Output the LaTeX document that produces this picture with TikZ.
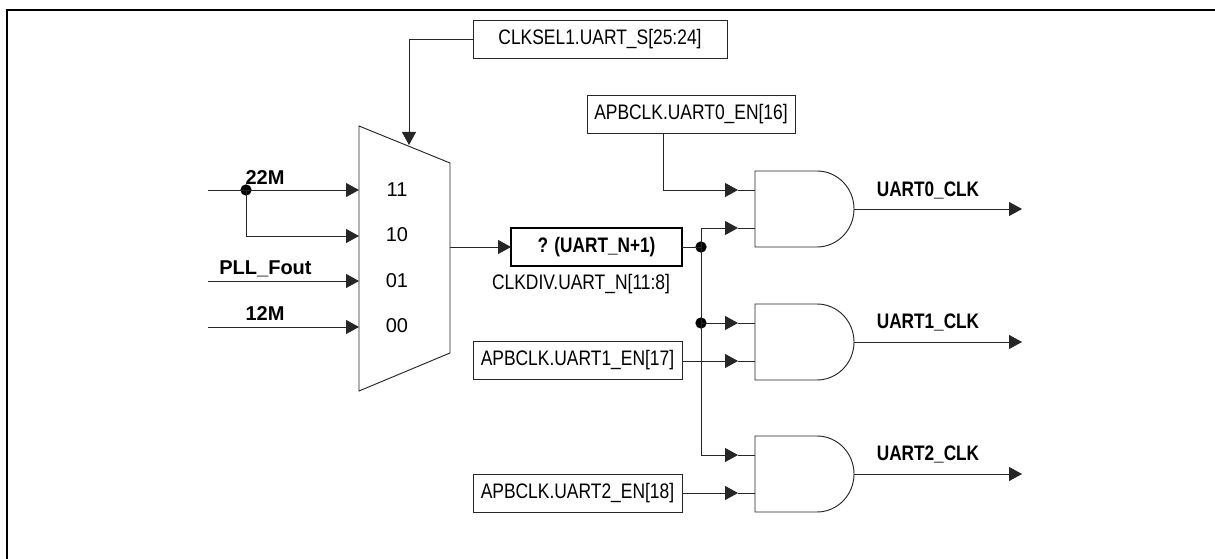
\documentclass[tikz,border=0pt]{standalone}
\usepackage{fontspec}
\setmainfont{Liberation Sans}
\newfontfamily\narrowfont[FakeStretch=0.82]{Liberation Sans}
\newfontfamily\regnarrowfont[FakeStretch=0.83]{Liberation Sans}
\usetikzlibrary{arrows.meta}
\tikzset{
  conn/.style={line width=0.7pt,draw=black!85},
  arr/.style={conn,-{Triangle[length=9.75pt,width=10.5pt]}},
  regbox/.style={draw=black!85,line width=0.7pt,fill=white,inner sep=0pt,outer sep=0pt,font=\regnarrowfont\fontsize{15.75pt}{18pt}\selectfont},
  divbox/.style={draw=black,line width=1.5pt,fill=white,inner sep=0pt,outer sep=0pt,font=\narrowfont\bfseries\fontsize{15.75pt}{18pt}\selectfont},
  dotn/.style={circle,fill=black,inner sep=0pt,outer sep=0pt,minimum size=8.5pt},
  siglabel/.style={font=\bfseries\fontsize{15pt}{18pt}\selectfont,inner sep=0pt},
  outlabel/.style={font=\narrowfont\bfseries\fontsize{15.75pt}{18pt}\selectfont,inner sep=0pt},
  muxlabel/.style={font=\fontsize{15pt}{18pt}\selectfont,inner sep=0pt},
  plainlabel/.style={font=\regnarrowfont\fontsize{15.75pt}{18pt}\selectfont,inner sep=0pt},
  andgate/.pic={
    \draw[conn] (0,0) -- (62,0) .. controls (82.4,0) and (99,17) .. (99,38)
      .. controls (99,59) and (82.4,76) .. (62,76) -- (0,76) -- cycle;
    \coordinate (-a) at (0,19);
    \coordinate (-b) at (0,57);
    \coordinate (-o) at (99,38);
  }
}
\begin{document}
\begin{tikzpicture}[x=0.75pt,y=-0.75pt]
\useasboundingbox (0,0) rectangle (1215,559);
\fill[white] (0,0) rectangle (1215,559);
% frame
\coordinate (frameTR) at (1215,10);
\coordinate (frameTL) at (7,10);
\coordinate (frameBL) at (7,559);
\draw[line width=1.6pt,black] (frameTR) -- (frameTL) -- (frameBL);
% mux
\coordinate (muxTL) at (359,126);
\coordinate (muxTR) at (450,163);
\coordinate (muxBR) at (450,353);
\coordinate (muxBL) at (359,391);
\draw[conn] (muxTL) -- (muxTR) -- (muxBR) -- (muxBL) -- cycle;
\coordinate (muxSel) at (409,145);
\coordinate (mux11) at (359,190);
\coordinate (mux10) at (359,236);
\coordinate (mux01) at (359,281);
\coordinate (mux00) at (359,327);
\coordinate (muxOut) at (450,247);
\node[muxlabel] (l11) at (397,190) {11};
\node[muxlabel] (l10) at (397,235) {10};
\node[muxlabel] (l01) at (397,281) {01};
\node[muxlabel] (l00) at (397,326) {00};
% input stubs
\coordinate (in22) at (208,190);
\coordinate (inPLL) at (208,281);
\coordinate (in12) at (208,327);
\node[dotn] (d22) at (246,190) {};
\draw[arr] (in22) -- (mux11);
\draw[arr] (d22.center) |- (mux10);
\draw[arr] (inPLL) -- (mux01);
\draw[arr] (in12) -- (mux00);
\node[siglabel] (t22) at (265,178) {22M};
\node[siglabel] (tPLL) at (265.5,269) {PLL\_Fout};
\node[siglabel] (t12) at (265,314) {12M};
% select
\node[regbox,minimum width=190.5pt,minimum height=28.5pt] (clksel) at (600,39) {CLKSEL1.UART\_S[25:24]};
\draw[arr] (clksel.west) -| (muxSel);
% divider
\node[divbox,minimum width=128.25pt,minimum height=28.5pt] (div) at (596.5,247) {? (UART\_N+1)};
\draw[arr] (muxOut) -- (div.west);
\node[plainlabel] (divl) at (581,284) {CLKDIV.UART\_N[11:8]};
% enable boxes
\node[regbox,minimum width=156pt,minimum height=28.5pt] (en0) at (691,114.5) {APBCLK.UART0\_EN[16]};
\node[regbox,minimum width=156.75pt,minimum height=28.5pt] (en1) at (577.5,360.5) {APBCLK.UART1\_EN[17]};
\node[regbox,minimum width=156.75pt,minimum height=28.5pt] (en2) at (577.5,493) {APBCLK.UART2\_EN[18]};
% gates
\pic (g0) at (755,171) {andgate};
\pic (g1) at (755,304) {andgate};
\pic (g2) at (755,436) {andgate};
% midpoints of arrowheads
\coordinate (g0am) at (738,190);
\coordinate (g0bm) at (738,228);
\coordinate (g1am) at (738,323);
\coordinate (g1bm) at (738,361);
\coordinate (g2am) at (738,455);
\coordinate (g2bm) at (738,493);
\coordinate (en0o) at (663,133);
\node[dotn] (dA) at (701,247) {};
\node[dotn] (dB) at (701,323) {};
% en0 to g0
\draw[arr] (en0o) |- (g0am);
\draw[conn] (g0am) -- (g0-a);
% divider out
\draw[conn] (div.east) -- (dA.center);
\draw[arr] (dA.center) |- (g0bm);
\draw[conn] (g0bm) -- (g0-b);
\draw[conn] (dA.center) -- (dB.center);
\draw[arr] (dB.center) -- (g1am);
\draw[conn] (g1am) -- (g1-a);
\draw[arr] (dB.center) |- (g2am);
\draw[conn] (g2am) -- (g2-a);
% en1, en2
\draw[arr] (en1.east |- g1bm) -- (g1bm);
\draw[conn] (g1bm) -- (g1-b);
\draw[arr] (en2.east |- g2bm) -- (g2bm);
\draw[conn] (g2bm) -- (g2-b);
% outputs
\coordinate (o0) at (1022,209);
\coordinate (o1) at (1022,342);
\coordinate (o2) at (1022,474);
\draw[arr] (g0-o) -- (o0);
\draw[arr] (g1-o) -- (o1);
\draw[arr] (g2-o) -- (o2);
\node[outlabel] (u0) at (928,190) {UART0\_CLK};
\node[outlabel] (u1) at (928,322) {UART1\_CLK};
\node[outlabel] (u2) at (928,454) {UART2\_CLK};
\end{tikzpicture}
\end{document}
